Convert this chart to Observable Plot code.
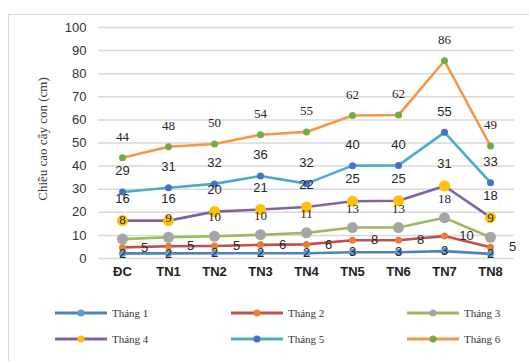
<!DOCTYPE html>
<html><head><meta charset="utf-8">
<script src="https://cdn.jsdelivr.net/npm/d3@7"></script>
<script src="https://cdn.jsdelivr.net/npm/@observablehq/plot@0.6"></script>
<style>
body{margin:0;background:#fff;}
#wrap{position:relative;width:529px;height:361px;overflow:hidden;background:#fff;}
#frame{position:absolute;left:8px;top:14px;width:600px;height:400px;border-left:1.5px solid #d9d9d9;border-top:1.5px solid #d9d9d9;}
#chart{position:absolute;left:0;top:0;}
.leg{position:absolute;height:12px;display:flex;align-items:center;font:11px "Liberation Serif";color:#333;white-space:nowrap;}
.leg svg{margin-right:5px;}
</style></head><body>
<div id="wrap"><div id="frame"></div><div id="chart"></div></div>
<script>
const categories = ["ĐC","TN1","TN2","TN3","TN4","TN5","TN6","TN7","TN8"];
const seriesNames = ["Tháng 1","Tháng 2","Tháng 3","Tháng 4","Tháng 5","Tháng 6"];
const thang1 = [2.2,2.2,2.3,2.3,2.3,2.7,2.7,3.2,2.0];
const thang2 = [4.8,5.3,5.4,5.9,6.1,7.9,7.9,9.7,4.9];
const thang3 = [8.4,9.2,9.6,10.3,11.1,13.4,13.4,17.6,9.2];
const thang4 = [16.4,16.4,20.3,21.2,22.3,24.8,25.0,31.4,17.8];
const thang5 = [28.8,30.6,32.3,35.7,32.4,40.2,40.3,54.6,32.8];
const thang6 = [43.6,48.4,49.6,53.6,54.8,61.9,62.1,85.6,48.7];
const yTicks = [0,10,20,30,40,50,60,70,80,90,100];

const lineColors = ["#4f81bd","#c0504d","#9bbb59","#8064a2","#4bacc6","#f79646"];
const dotColors  = ["#5b9bd5","#ed7d31","#a5a5a5","#ffc000","#4472c4","#70ad47"];
const dotR       = [3.5,3.5,5.5,5.5,3.5,3.5];
const labelStyle = [
  {dx:0, dy:0, font:"Liberation Sans"},
  {dx:22, dy:0, font:"Liberation Sans"},
  {dx:0, dy:-19, font:"Liberation Serif"},
  {dx:0, dy:-22, font:"Liberation Sans"},
  {dx:0, dy:-21, font:"Liberation Sans"},
  {dx:0, dy:-21, font:"Liberation Serif"}
];
const allValues = [thang1,thang2,thang3,thang4,thang5,thang6];
const tables = allValues.map((vals, s) => vals.map((v, i) => ({cat: categories[i], value: v, series: seriesNames[s]})));

const marks = [
  Plot.gridY({ticks: yTicks, stroke: "#d9d9d9", strokeOpacity: 1, strokeWidth: 1.5}),
  Plot.axisY({ticks: yTicks, tickSize: 0, tickPadding: 12, label: null, fontSize: 13, fontFamily: "Liberation Sans", fill: "#333"}),
  Plot.axisX({tickSize: 0, tickPadding: 8, label: null, fontSize: 13, fontFamily: "Liberation Sans", fontWeight: "bold", fill: "#222"}),
  Plot.text(["Chiều cao cây con (cm)"], {frameAnchor: "left", textAnchor: "middle", rotate: -90, dx: -56, dy: -4, fontFamily: "Liberation Serif", fontSize: 13, fill: "#333"})
];
tables.forEach((t, s) => {
  marks.push(Plot.line(t, {x: "cat", y: "value", stroke: lineColors[s], strokeWidth: 2.6}));
  marks.push(Plot.dot(t, {x: "cat", y: "value", fill: dotColors[s], r: dotR[s], stroke: null}));
});
tables.forEach((t, s) => {
  const ls = labelStyle[s];
  marks.push(Plot.text(t, {x: "cat", y: "value", text: d => String(Math.round(d.value)), dx: ls.dx, dy: ls.dy, fontFamily: ls.font, fontSize: 13, fill: "#262626"}));
});

const chart = Plot.plot({
  width: 529, height: 300,
  marginLeft: 98, marginRight: 15, marginTop: 27, marginBottom: 42,
  x: {type: "point", domain: categories, padding: 0.5, axis: null},
  y: {domain: [0, 100], axis: null},
  style: {background: "transparent", overflow: "visible"},
  marks
});
document.getElementById("chart").appendChild(chart);

// legend
const wrap = document.getElementById("wrap");
const legX = [55, 231, 407];
const legY = [313, 339];
seriesNames.forEach((name, s) => {
  const div = document.createElement("div");
  div.className = "leg";
  div.style.left = legX[s % 3] + "px";
  div.style.top = (legY[Math.floor(s / 3)] - 6) + "px";
  div.innerHTML = `<svg width="52" height="12"><line x1="0" y1="6" x2="52" y2="6" stroke="${lineColors[s]}" stroke-width="3"/><circle cx="26" cy="6" r="3.5" fill="${dotColors[s]}"/></svg><span>${name}</span>`;
  wrap.appendChild(div);
});
</script>
</body></html>
